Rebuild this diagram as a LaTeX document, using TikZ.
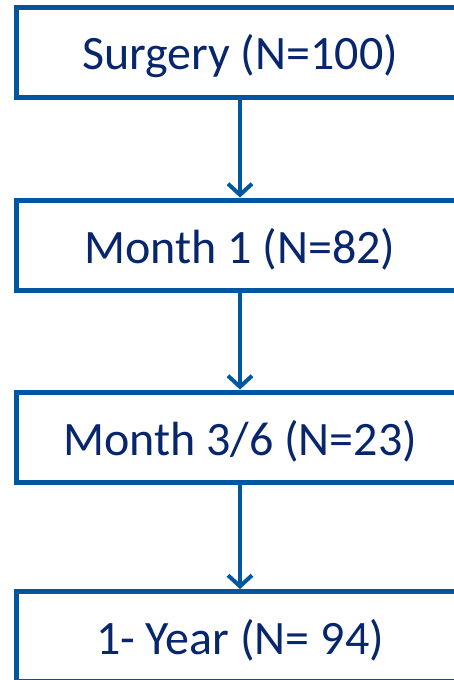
\documentclass[tikz,border=0pt]{standalone}
\usepackage{fontspec}
\setmainfont{Carlito}
\usetikzlibrary{arrows.meta}
\definecolor{boxblue}{RGB}{0,86,160}
\definecolor{textblue}{RGB}{8,38,110}
\newcommand{\stagetext}[1]{\raisebox{-4pt}[\height][\depth]{#1}}
\begin{document}
\begin{tikzpicture}[x=1pt,y=-1pt,
  stagebox/.style={draw=boxblue, line width=5pt, minimum width=447pt, minimum height=90pt,
    inner sep=0pt, text=textblue, font=\fontsize{48}{57}\selectfont, fill=white},
  flowarrow/.style={draw=boxblue, line width=4pt, -{Straight Barb[length=11pt,width=24pt]}}]
\useasboundingbox (0,0) rectangle (454,680);
\node[stagebox] (s) at (240,52.5) {\stagetext{Surgery (N=100)}};
\node[stagebox] (m1) at (240,245) {\stagetext{Month 1 (N=82)}};
\node[stagebox] (m3) at (240,437) {\stagetext{Month 3/6 (N=23)}};
\node[stagebox] (y1) at (240,636.5) {\stagetext{1- Year (N= 94)}};
\draw[flowarrow] (s.south) -- (m1.north);
\draw[flowarrow] (m1.south) -- (m3.north);
\draw[flowarrow] (m3.south) -- (y1.north);
\end{tikzpicture}
\end{document}
